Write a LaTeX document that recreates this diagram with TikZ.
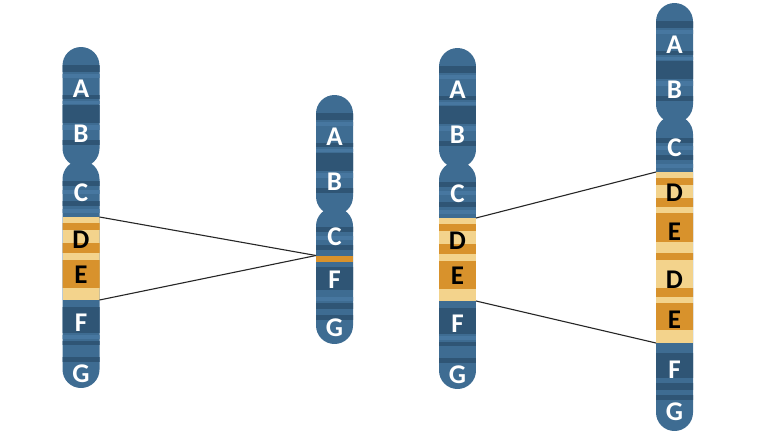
\documentclass[tikz,border=0pt]{standalone}
\usepackage{fontspec}
\setmainfont{Carlito}
\usetikzlibrary{positioning}

\definecolor{chrmid}{HTML}{3E6C92}
\definecolor{chrdark}{HTML}{2F5575}
\definecolor{chrlight}{HTML}{4777A0}
\definecolor{segpale}{HTML}{F3D38C}
\definecolor{segorange}{HTML}{D8922C}

\tikzset{
	lbl/.style={font=\bfseries\fontsize{27}{27}\selectfont, text=white, inner sep=0pt},
	lbldark/.style={lbl, text=black},
	seg/.style={fill=segpale, minimum width=37pt, minimum height=#1, inner sep=0pt, outer sep=0pt, anchor=north},
	link/.style={draw=black!85, line width=1.1pt},
}

\newcommand{\arm}[2]{\clip[rounded corners=18.5pt] (-18.5,#1) rectangle (18.5,#2);
	\fill[chrmid] (-19,#1) rectangle (19,#2);}
\newcommand{\band}[3]{\fill[#1] (-19,#2) rectangle (19,#3);}

\newcommand{\uparm}[3]{%
	\begin{scope}[shift={(#2,#3)}]
		\arm{0}{120}
		\band{chrdark}{18}{25}
		\band{chrlight}{27}{31}
		\band{chrdark}{48}{52}
		\band{chrlight}{54}{57}
		\band{chrdark}{58}{76}
		\band{chrlight}{78}{83}
		\band{chrdark}{93}{98}
		\node[lbl] (#1a) at (0,41.3) {A};
		\node[lbl] (#1b) at (0,86.5) {B};
	\end{scope}}

\newcommand{\wtlow}[3]{%
	\begin{scope}[shift={(#2,#3)}]
		\arm{160.5}{388}
		\band{chrdark}{181}{186}
		\band{chrlight}{190}{194}
		\band{chrdark}{201}{206}
		\band{chrlight}{209}{213}
		\node[seg=83pt] (#1seg) at (0,217) {};
		\band{segorange}{223}{230}
		\band{segorange}{243}{253}
		\band{segorange}{260}{288}
		\band{chrdark}{307}{333}
		\band{chrlight}{335}{339}
		\band{chrdark}{341}{345}
		\band{chrdark}{357}{362}
		\node[lbl] (#1c) at (0,193) {C};
		\node[lbldark] (#1d) at (0,240) {D};
		\node[lbldark] (#1e) at (0,275) {E};
		\node[lbl] (#1f) at (0,323) {F};
		\node[lbl] (#1g) at (0,373.5) {G};
	\end{scope}}

\begin{document}
\begin{tikzpicture}[x=1pt, y=-1pt]
	\path[fill=white] (0,0) rectangle (768,445);
	\useasboundingbox (0,0) rectangle (768,445);

	% normal
	\wtlow{n}{81}{0}
	\uparm{n}{81}{47}

	% deletion
	\begin{scope}[shift={(334.5,0)}]
		\arm{207.5}{344}
		\band{chrdark}{227}{232}
		\band{chrlight}{236}{240}
		\band{chrdark}{245}{250}
		\node[seg=6pt, fill=segorange] (delcut) at (0,255.5) {};
		\band{chrdark}{267}{290}
		\band{chrlight}{297}{301}
		\band{chrdark}{303}{309}
		\band{chrdark}{315}{320}
		\node[lbl] (delc) at (0,237) {C};
		\node[lbl] (delf) at (0,280) {F};
		\node[lbl] (delg) at (0,328) {G};
	\end{scope}
	\uparm{del}{334.5}{95}

	% normal
	\wtlow{m}{457.5}{1}
	\uparm{m}{457.5}{48}

	% duplication
	\begin{scope}[shift={(674.5,0)}]
		\arm{115.5}{431}
		\band{chrdark}{138}{143}
		\band{chrlight}{146}{150}
		\band{chrdark}{155}{160}
		\band{chrlight}{164}{168}
		\node[seg=171pt] (dupseg) at (0,172) {};
		\band{segorange}{178}{185}
		\band{segorange}{198}{207}
		\band{segorange}{213}{242}
		\band{segorange}{253}{260}
		\band{segorange}{288}{297}
		\band{segorange}{303}{330}
		\band{chrdark}{353}{378}
		\band{chrdark}{383}{390}
		\band{chrdark}{395}{400}
		\node[lbl] (dupc) at (0,147.5) {C};
		\node[lbldark] (dupd1) at (0,192.5) {D};
		\node[lbldark] (dupe1) at (0,231.5) {E};
		\node[lbldark] (dupd2) at (0,279.5) {D};
		\node[lbldark] (dupe2) at (0,320) {E};
		\node[lbl] (dupf) at (0,369.5) {F};
		\node[lbl] (dupg) at (0,411.5) {G};
	\end{scope}
	\uparm{dup}{674.5}{3}

	\draw[link] (nseg.north east) -- (delcut.north west);
	\draw[link] (nseg.south east) -- (delcut.north west);
	\draw[link] (mseg.north east) -- (dupseg.north west);
	\draw[link] (mseg.south east) -- (dupseg.south west);
\end{tikzpicture}
\end{document}
